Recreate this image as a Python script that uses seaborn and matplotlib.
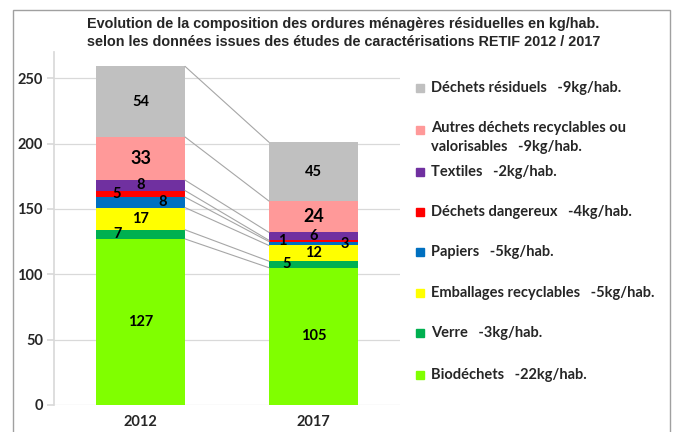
import numpy as np
import pandas as pd
import seaborn as sns
import matplotlib.pyplot as plt
from matplotlib.patches import Rectangle

# data, bottom -> top of the stack
years = ["2012", "2017"]
categories = ["Biodéchets", "Verre", "Emballages recyclables", "Papiers",
              "Déchets dangereux", "Textiles",
              "Autres déchets recyclables ou\nvalorisables", "Déchets résiduels"]
evolution = ["-22kg/hab.", "-3kg/hab.", "-5kg/hab.", "-5kg/hab.",
             "-4kg/hab.", "-2kg/hab.", "-9kg/hab.", "-9kg/hab."]
values_2012 = [127, 7, 17, 8, 5, 8, 33, 54]
values_2017 = [105, 5, 12, 3, 1, 6, 24, 45]

colors = ["#80FF00", "#00B050", "#FFFF00", "#0070C0",
          "#FF0000", "#7030A0", "#FF9999", "#C0C0C0"]

# label offsets (pixels) to keep small values readable
dx_2012 = [0, -23, 0, 22, -24, 0, 0, 0]
dx_2017 = [0, -27, 0, 31, -31, 0, 0, 0]
big = [False] * 6 + [True, False]

sns.set_theme(style="white")
plt.rcParams["font.family"] = ["Lato", "DejaVu Sans"]

fig = plt.figure(figsize=(6.77, 4.32), dpi=100)
ax = fig.add_axes([54 / 677, 27 / 432, 346 / 677, 353 / 432])

width = 0.515
df = pd.DataFrame({"year": np.repeat(years, len(categories)),
                   "cat": categories * 2,
                   "value": values_2012 + values_2017})
df["bottom"] = df.groupby("year")["value"].cumsum() - df["value"]

for i, cat in enumerate(categories):
    sub = df[df.cat == cat]
    sns.barplot(data=sub, x="year", y="value", bottom=sub["bottom"].values,
                color=colors[i], width=width, saturation=1, ax=ax,
                edgecolor="none", linewidth=0)

# series lines between the stacks
cum12 = np.cumsum(values_2012)
cum17 = np.cumsum(values_2017)
for a, b in zip(cum12, cum17):
    ax.plot([width / 2, 1 - width / 2], [a, b], color="#A6A6A6", lw=0.8, zorder=1)

# value labels
for j, (vals, dxs) in enumerate([(values_2012, dx_2012), (values_2017, dx_2017)]):
    bottoms = np.cumsum(vals) - np.array(vals)
    for k, v in enumerate(vals):
        ax.annotate(str(v), (j, bottoms[k] + v / 2), xytext=(dxs[k], 0),
                    textcoords="offset pixels", ha="center", va="center",
                    fontsize=13 if big[k] else 10.5, fontweight="bold",
                    color="black", zorder=5)

ax.set_xlim(-0.5, 1.5)
ax.set_ylim(0, 270)
ax.set_yticks(range(0, 251, 50))
ax.yaxis.grid(True, color="#D9D9D9", lw=0.9)
ax.set_axisbelow(True)
for s in ["top", "right", "bottom"]:
    ax.spines[s].set_visible(False)
ax.spines["left"].set_color("#D9D9D9")
ax.tick_params(axis="y", length=5, color="#D9D9D9", left=True, pad=3, labelsize=10.5)
ax.tick_params(axis="x", length=0, pad=7, labelsize=10.5)
for t in ax.get_xticklabels() + ax.get_yticklabels():
    t.set_fontweight("bold")
ax.set_xlabel("")
ax.set_ylabel("")

fig.text(0.507, 1 - 33 / 432,
         "Evolution de la composition des ordures ménagères résiduelles en kg/hab.\n"
         "selon les données issues des études de caractérisations RETIF 2012 / 2017",
         ha="center", va="center", fontsize=10.4, fontweight="bold",
         family=["Liberation Sans", "DejaVu Sans"], linespacing=1.3)

# legend, drawn by hand to keep Excel's spacing
legend_y = [375, 333, 293, 252, 212, 172, 130, 88]
for k in range(len(categories)):
    y = legend_y[k]
    fig.patches.append(Rectangle((416 / 677, 1 - (y + 4) / 432), 8 / 677, 8 / 432,
                                 transform=fig.transFigure, color=colors[k]))
    lab = categories[k] + "   " + evolution[k]
    if k == 6:
        fig.text(431 / 677, 1 - (y - 9) / 432, lab, ha="left", va="top",
                 fontsize=10.5, fontweight="bold", linespacing=1.5)
    else:
        fig.text(431 / 677, 1 - y / 432, lab, ha="left", va="center",
                 fontsize=10.5, fontweight="bold")

# outer chart frame
fig.patches.append(Rectangle((13 / 677, -0.1), 657 / 677, 1.1 - 10 / 432,
                             transform=fig.transFigure, fill=False,
                             edgecolor="#A0A0A0", lw=1))

fig.savefig("out.png", dpi=100)
